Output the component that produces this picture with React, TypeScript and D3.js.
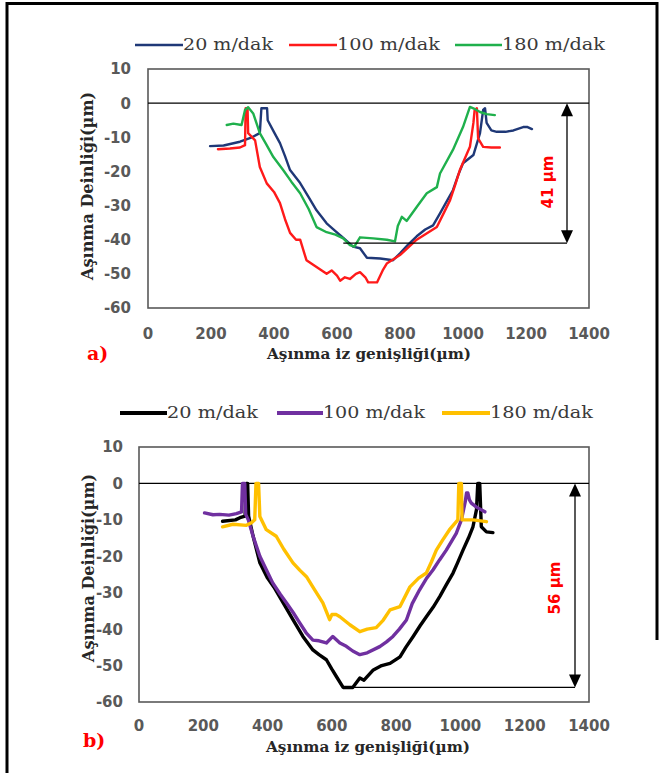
import React from 'react';
import * as d3 from 'd3';

// Wear track profiles: depth vs. track width, two panels (a, b)
type Pt = [number, number];

const X_TICKS = [0, 200, 400, 600, 800, 1000, 1200, 1400];
const Y_TICKS = [10, 0, -10, -20, -30, -40, -50, -60];
const SPEED_LABELS = ['20 m/dak', '100 m/dak', '180 m/dak'];

// panel a
const A_20: Pt[] = [
  [197, -12.6], [240, -12.4], [292, -11.3], [330, -10], [355, -8.8], [360, -1.5], [378, -1.5], [380, -5],
  [400, -8.5], [419, -11.7], [435, -15.5], [451, -19.6], [483, -23.4], [510, -27.5], [535, -31.4],
  [567, -35.2], [595, -37.5], [620, -39.5], [651, -42], [673, -42.5], [695, -45.3], [737, -45.5],
  [778, -46], [800, -44], [825, -41.5], [853, -39], [880, -37], [905, -35.8], [927, -32.3], [950, -28.5],
  [968, -25.5], [985, -21], [1000, -17.6], [1033, -15.2], [1054, -8.8], [1064, -2], [1070, -1.5],
  [1075, -5.8], [1090, -8], [1107, -8.4], [1135, -8.4], [1160, -8], [1191, -7], [1205, -7], [1219, -7.6],
];
const A_100: Pt[] = [
  [222, -13.5], [260, -13.3], [292, -13], [308, -12.3], [310, -1.5], [316, -1.5], [318, -8.8], [340, -10.9],
  [355, -18.7], [377, -23.5], [400, -26], [419, -29.3], [435, -34], [451, -38], [470, -40], [483, -40],
  [503, -46], [535, -48], [567, -50], [583, -49], [600, -50.5], [610, -52], [625, -51], [641, -51.5],
  [660, -50], [673, -49.5], [690, -51], [699, -52.5], [727, -52.5], [745, -49], [758, -47], [800, -44.5],
  [853, -40], [917, -36.3], [940, -32], [959, -28.4], [975, -24], [990, -19.6], [1022, -12.8],
  [1033, -5.8], [1037, -2], [1044, -1.5], [1048, -10.3], [1064, -12.8], [1090, -13], [1117, -13],
];
const A_180: Pt[] = [
  [250, -6.4], [271, -6], [297, -6.4], [308, -2], [318, -1.2], [334, -3], [355, -8.8], [375, -12],
  [398, -15.8], [429, -19.6], [455, -23], [483, -26.4], [510, -31], [535, -36.3], [567, -37.8],
  [595, -38.5], [620, -39.6], [641, -41.6], [655, -42], [673, -39.3], [715, -39.6], [758, -40],
  [784, -40.5], [793, -36], [806, -33.3], [821, -34.5], [853, -30.4], [885, -26.4], [917, -24.6],
  [927, -20.6], [968, -13.7], [1000, -7], [1022, -1.1], [1033, -1.5], [1054, -2.6], [1075, -3.2], [1101, -3.5],
];

// panel b
const B_20: Pt[] = [
  [260, -10.4], [300, -10], [314, -9.4], [330, -9], [333, 0], [338, 0], [341, -9], [355, -14.5],
  [376, -21.8], [400, -26], [420, -28.5], [450, -33], [479, -37.4], [510, -42], [541, -45.7], [560, -47],
  [583, -48.4], [600, -51], [614, -53], [635, -56], [665, -56], [687, -53.4], [700, -54], [729, -51.2],
  [755, -50], [781, -49.4], [812, -47.6], [830, -45], [853, -42], [875, -39], [894, -36.6], [915, -34],
  [936, -31], [955, -28], [977, -24.6], [990, -22], [1008, -18.3], [1025, -15], [1039, -11.9],
  [1050, -7.2], [1054, 0], [1060, 0], [1065, -11.9], [1081, -13.3], [1101, -13.5],
];
const B_100: Pt[] = [
  [204, -8.1], [230, -8.6], [251, -8.5], [280, -8.7], [303, -8.3], [319, -7.8], [322, 0], [329, 0],
  [332, -8.5], [340, -10], [355, -14.5], [376, -20], [395, -23.5], [416, -27.3], [440, -30.5],
  [459, -32.8], [480, -35.5], [500, -38.3], [520, -41], [541, -43], [560, -43.2], [583, -43.8],
  [603, -42], [625, -43.8], [645, -44.7], [665, -46], [687, -47], [710, -46.5], [749, -44.8],
  [770, -43.5], [790, -42], [810, -40], [832, -37.5], [850, -33], [873, -29.2], [895, -26], [915, -23.7],
  [935, -21], [956, -18.3], [975, -15.5], [987, -13.7], [1003, -10], [1015, -5], [1019, -2.6],
  [1023, -2.6], [1028, -4.5], [1034, -5.4], [1050, -6.5], [1076, -7.8],
];
const B_180: Pt[] = [
  [260, -11.9], [292, -11.2], [334, -11.5], [350, -10.8], [360, -10], [364, 0], [372, 0], [376, -9.1],
  [381, -10], [396, -12.7], [427, -14.5], [450, -18], [479, -21.8], [500, -23.8], [521, -25.6],
  [545, -29], [572, -32.8], [593, -37.4], [600, -36], [614, -36], [625, -36.6], [656, -38.8],
  [687, -40.7], [710, -40], [738, -39.6], [760, -37.5], [781, -34.7], [812, -33.8], [843, -28.4],
  [870, -26], [894, -24.6], [910, -21.5], [925, -18.3], [945, -15.5], [966, -12.7], [992, -10],
  [995, 0], [1003, 0], [1005, -10], [1039, -10], [1081, -10.5],
];

const A_DEPTH = 41;
const B_DEPTH = 56;

const tickFont = { fontFamily: 'DejaVu Sans', fontWeight: 700, fontSize: 15, fill: '#595959' } as const;
const serif = 'DejaVu Serif';

function Arrow({ x, y0, y1 }: { x: number; y0: number; y1: number }) {
  const hw = 6, hl = 13;
  return (
    <g>
      <line x1={x} x2={x} y1={y0 + hl - 1} y2={y1 - hl + 1} stroke="#000" strokeWidth={1.3} />
      <path d={`M${x},${y0}L${x - hw},${y0 + hl}L${x + hw},${y0 + hl}Z`} fill="#000" />
      <path d={`M${x},${y1}L${x - hw},${y1 - hl}L${x + hw},${y1 - hl}Z`} fill="#000" />
    </g>
  );
}

function Panel(p: {
  left: number; right: number; top: number; bottom: number;
  series: Pt[][]; colors: string[]; lw: number;
  yTickX: number; xTickY: number;
  legend: { y: number; segs: [number, number, number][]; lw: number };
  yTitle: [number, number]; xTitle: [number, number];
  tag: string; tagPos: [number, number];
  depth: number; lineFrom: number; arrowX: number; depthLabel: [number, number];
}) {
  const x = d3.scaleLinear().domain([0, 1400]).range([p.left, p.right]);
  const y = d3.scaleLinear().domain([-60, 10]).range([p.bottom, p.top]);
  const line = d3.line<Pt>().x((d) => x(d[0])).y((d) => y(d[1]));
  return (
    <g>
      {/* legend */}
      {p.legend.segs.map(([x0, x1, tEnd], i) => (
        <g key={i}>
          <line x1={x0} x2={x1} y1={p.legend.y} y2={p.legend.y} stroke={p.colors[i]} strokeWidth={p.legend.lw} />
          <text x={x1} y={p.legend.y + 5} fontFamily={serif} fontSize={16} fill="#3a3a3a"
            textLength={tEnd - x1} lengthAdjust="spacingAndGlyphs">{SPEED_LABELS[i]}</text>
        </g>
      ))}
      {/* frame */}
      <rect x={p.left} y={p.top} width={p.right - p.left} height={p.bottom - p.top}
        fill="none" stroke="#595959" strokeWidth={1.6} />
      <line x1={p.left} x2={p.right} y1={y(0)} y2={y(0)} stroke="#000" strokeWidth={1.2} />
      {/* ticks */}
      {Y_TICKS.map((t) => (
        <text key={t} x={p.yTickX} y={y(t)} dy="0.36em" textAnchor="end" {...tickFont}>{t}</text>
      ))}
      {X_TICKS.map((t) => (
        <text key={t} x={x(t)} y={p.xTickY} textAnchor="middle" {...tickFont}>{t}</text>
      ))}
      {/* series */}
      {p.series.map((s, i) => (
        <path key={i} d={line(s) || ''} fill="none" stroke={p.colors[i]} strokeWidth={p.lw}
          strokeLinejoin="round" strokeLinecap="round" />
      ))}
      {/* depth annotation */}
      <line x1={x(p.lineFrom)} x2={p.arrowX} y1={y(-p.depth)} y2={y(-p.depth)} stroke="#000" strokeWidth={1.3} />
      <Arrow x={p.arrowX} y0={y(0)} y1={y(-p.depth)} />
      <text transform={`translate(${p.depthLabel[0]},${p.depthLabel[1]}) rotate(-90)`} textAnchor="middle"
        dy="0.35em" fontFamily="DejaVu Sans" fontWeight={700} fontSize={15} fill="#ff0000">
        {`${p.depth} µm`}
      </text>
      {/* titles */}
      <text transform={`translate(${p.yTitle[0]},${p.yTitle[1]}) rotate(-90)`} textAnchor="middle" dy="0.35em"
        fontFamily={serif} fontWeight={700} fontSize={16} fill="#262626" textLength={188}
        lengthAdjust="spacingAndGlyphs">Aşınma Deinliği(µm)</text>
      <text x={p.xTitle[0]} y={p.xTitle[1]} textAnchor="middle" fontFamily={serif} fontWeight={700}
        fontSize={15} fill="#262626" textLength={204} lengthAdjust="spacingAndGlyphs">Aşınma iz genişliği(µm)</text>
      <text x={p.tagPos[0]} y={p.tagPos[1]} fontFamily={serif} fontWeight={700} fontSize={19} fill="#ff0000">{p.tag}</text>
    </g>
  );
}

export default function App() {
  const W = 662, H = 773;
  return (
    <svg width={W} height={H} viewBox={`0 0 ${W} ${H}`}
      style={{ position: 'absolute', left: 0, top: 0, background: '#fff' }}>
      <rect width={W} height={H} fill="#fff" />
      <path d="M7,773V3.5H657V640" fill="none" stroke="#000" strokeWidth={3} />
      <Panel left={148} right={589} top={69} bottom={308}
        series={[A_20, A_100, A_180]} colors={['#1f3877', '#ff1a1a', '#1fb04c']} lw={2.4}
        yTickX={131} xTickY={339}
        legend={{ y: 45, lw: 2.6, segs: [[135, 183, 273], [289, 337, 440], [455, 502, 605]] }}
        yTitle={[87, 186]} xTitle={[369, 359]} tag="a)" tagPos={[87, 360]}
        depth={A_DEPTH} lineFrom={620} arrowX={567} depthLabel={[548, 182]} />
      <Panel left={139} right={589} top={447} bottom={702}
        series={[B_20, B_100, B_180]} colors={['#000000', '#7030a0', '#ffc000']} lw={3.4}
        yTickX={123} xTickY={731}
        legend={{ y: 413, lw: 4, segs: [[120, 167, 258], [277, 323, 425], [442, 490, 593]] }}
        yTitle={[88, 568]} xTitle={[368, 752]} tag="b)" tagPos={[83, 747]}
        depth={B_DEPTH} lineFrom={650} arrowX={575} depthLabel={[555, 588]} />
    </svg>
  );
}
